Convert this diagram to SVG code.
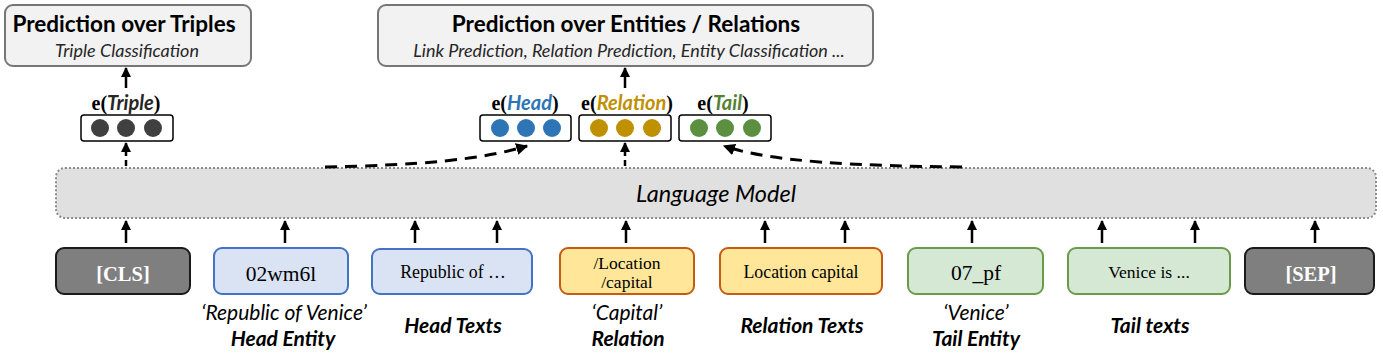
<svg xmlns="http://www.w3.org/2000/svg" width="1383" height="354" viewBox="0 0 1383 354">
<style>
.sans{font-family:Lato,"Open Sans","Liberation Sans",sans-serif}
.serif{font-family:"Liberation Serif","DejaVu Serif",serif}
.title{font-size:22.5px;font-weight:bold;fill:#000}
.sub{font-size:18px;font-style:italic;fill:#262626}
.pred{fill:#f2f2f2;stroke:#767676;stroke-width:2}
.emb{fill:#fff;stroke:#000;stroke-width:1.5}
.lab{font-size:20px;font-weight:bold}
.arr{stroke:#000;stroke-width:2.5;fill:none}
.dash{stroke:#000;stroke-width:3;fill:none;stroke-dasharray:12 8}
.tok{fill:#000}
.cap{font-size:21px;font-style:italic;fill:#000}
.capb{font-size:21px;font-style:italic;font-weight:bold;fill:#000}
</style>
<defs>
<marker id="ah" viewBox="0 0 10 10" refX="9" refY="5" markerWidth="4" markerHeight="4" orient="auto" markerUnits="strokeWidth">
<path d="M0,0 L10,5 L0,10 z" fill="#000"/>
</marker>
</defs>

<g id="pred-triples">
<rect class="pred" x="5" y="5" width="246" height="61" rx="8"/>
<text class="sans title" x="124" y="32" text-anchor="middle">Prediction over Triples</text>
<text class="sans sub" x="127" y="57" text-anchor="middle">Triple Classification</text>
</g>

<g id="pred-entities">
<rect class="pred" x="378" y="5" width="495" height="61" rx="8"/>
<text class="sans title" x="626" y="32" text-anchor="middle">Prediction over Entities / Relations</text>
<text class="sans sub" x="629" y="57" text-anchor="middle">Link Prediction, Relation Prediction, Entity Classification ...</text>
</g>

<g id="emb-triple">
<text x="126" y="110" text-anchor="middle" class="lab"><tspan class="serif">e(</tspan><tspan class="sans" font-style="italic" fill="#262626">Triple</tspan><tspan class="serif">)</tspan></text>
<rect class="emb" x="81" y="115" width="92" height="26" rx="3"/>
<circle cx="100" cy="128" r="9" fill="#404040"/>
<circle cx="126" cy="128" r="9" fill="#404040"/>
<circle cx="153" cy="128" r="9" fill="#404040"/>
</g>

<g id="emb-head">
<text x="525" y="110" text-anchor="middle" class="lab"><tspan class="serif">e(</tspan><tspan class="sans" font-style="italic" fill="#2e75b6">Head</tspan><tspan class="serif">)</tspan></text>
<rect class="emb" x="480" y="115" width="91" height="26" rx="3"/>
<circle cx="500" cy="128" r="9" fill="#2e75b6"/>
<circle cx="526" cy="128" r="9" fill="#2e75b6"/>
<circle cx="552" cy="128" r="9" fill="#2e75b6"/>
</g>

<g id="emb-relation">
<text x="627" y="110" text-anchor="middle" class="lab"><tspan class="serif">e(</tspan><tspan class="sans" font-style="italic" fill="#bf9000">Relation</tspan><tspan class="serif">)</tspan></text>
<rect class="emb" x="579" y="115" width="92" height="26" rx="3"/>
<circle cx="599" cy="128" r="9" fill="#bf9000"/>
<circle cx="625" cy="128" r="9" fill="#bf9000"/>
<circle cx="652" cy="128" r="9" fill="#bf9000"/>
</g>

<g id="emb-tail">
<text x="723" y="110" text-anchor="middle" class="lab"><tspan class="serif">e(</tspan><tspan class="sans" font-style="italic" fill="#548235">Tail</tspan><tspan class="serif">)</tspan></text>
<rect class="emb" x="679" y="115" width="92" height="26" rx="3"/>
<circle cx="699" cy="128" r="9" fill="#5b9040"/>
<circle cx="725" cy="128" r="9" fill="#5b9040"/>
<circle cx="752" cy="128" r="9" fill="#5b9040"/>
</g>

<g id="language-model">
<rect x="56" y="168" width="1320" height="50" rx="9" fill="#e0e0e0" stroke="#8c8c8c" stroke-width="2" stroke-dasharray="2 2"/>
<text class="sans" x="716" y="202" text-anchor="middle" font-size="23.5" font-style="italic" fill="#000">Language Model</text>
</g>

<g id="tok-cls">
<rect x="56" y="248" width="134" height="46" rx="8" fill="#7f7f7f" stroke="#1a1a1a" stroke-width="2"/>
<text class="serif" x="123" y="281" text-anchor="middle" font-size="20.5" font-weight="bold" fill="#fff">[CLS]</text>
</g>

<g id="tok-head">
<rect x="214" y="248" width="134" height="46" rx="8" fill="#dae3f3" stroke="#4472c4" stroke-width="2"/>
<text class="serif tok" x="281" y="281" text-anchor="middle" font-size="21.5">02wm6l</text>
</g>

<g id="tok-headtext">
<rect x="372" y="249" width="160" height="45" rx="8" fill="#dae3f3" stroke="#4472c4" stroke-width="2"/>
<text class="serif tok" x="453" y="278" text-anchor="middle" font-size="17.8">Republic of …</text>
</g>

<g id="tok-relation">
<rect x="560" y="248" width="134" height="46" rx="8" fill="#ffe699" stroke="#c55a11" stroke-width="2"/>
<text class="serif tok" x="627" y="269" text-anchor="middle" font-size="17.5">/Location</text>
<text class="serif tok" x="627" y="288" text-anchor="middle" font-size="17.5">/capital</text>
</g>

<g id="tok-reltext">
<rect x="720" y="248" width="162" height="46" rx="8" fill="#ffe699" stroke="#c55a11" stroke-width="2"/>
<text class="serif tok" x="801" y="278" text-anchor="middle" font-size="17.8">Location capital</text>
</g>

<g id="tok-tail">
<rect x="908" y="248" width="135" height="46" rx="8" fill="#d5e8d4" stroke="#6a9a4a" stroke-width="2"/>
<text class="serif tok" x="976" y="280" text-anchor="middle" font-size="21.5">07_pf</text>
</g>

<g id="tok-tailtext">
<rect x="1068" y="248" width="162" height="46" rx="8" fill="#d5e8d4" stroke="#6a9a4a" stroke-width="2"/>
<text class="serif tok" x="1149" y="278" text-anchor="middle" font-size="17.6">Venice is ...</text>
</g>

<g id="tok-sep">
<rect x="1245" y="248" width="129" height="46" rx="8" fill="#7f7f7f" stroke="#1a1a1a" stroke-width="2"/>
<text class="serif" x="1311" y="281" text-anchor="middle" font-size="20.5" font-weight="bold" fill="#fff">[SEP]</text>
</g>

<g id="captions">
<text class="sans cap" x="284" y="320" text-anchor="middle">‘Republic of Venice’</text>
<text class="sans capb" x="283" y="346" text-anchor="middle">Head Entity</text>
<text class="sans capb" x="453" y="333" text-anchor="middle">Head Texts</text>
<text class="sans cap" x="627" y="320" text-anchor="middle">‘Capital’</text>
<text class="sans capb" x="628" y="346" text-anchor="middle">Relation</text>
<text class="sans capb" x="802" y="333" text-anchor="middle">Relation Texts</text>
<text class="sans cap" x="976" y="320" text-anchor="middle">‘Venice’</text>
<text class="sans capb" x="976" y="346" text-anchor="middle">Tail Entity</text>
<text class="sans capb" x="1150" y="333" text-anchor="middle">Tail texts</text>
</g>

<g id="connectors">
<line class="arr" x1="126" y1="88" x2="126" y2="68" marker-end="url(#ah)"/>
<line class="arr" x1="625" y1="88" x2="625" y2="68" marker-end="url(#ah)"/>
<line class="arr" x1="126" y1="166" x2="126" y2="143" stroke-dasharray="6 4" marker-end="url(#ah)"/>
<line class="arr" x1="625" y1="166" x2="625" y2="143" stroke-dasharray="6 4" marker-end="url(#ah)"/>
<path class="dash" d="M325,167 C420,165 480,160 527,146" marker-end="url(#ah)"/>
<path class="dash" d="M962,167 C860,166 770,162 724,146" marker-end="url(#ah)"/>
<line class="arr" x1="126" y1="243" x2="126" y2="221" marker-end="url(#ah)"/>
<line class="arr" x1="285" y1="243" x2="285" y2="221" marker-end="url(#ah)"/>
<line class="arr" x1="415" y1="243" x2="415" y2="221" marker-end="url(#ah)"/>
<line class="arr" x1="497" y1="243" x2="497" y2="221" marker-end="url(#ah)"/>
<line class="arr" x1="626" y1="243" x2="626" y2="221" marker-end="url(#ah)"/>
<line class="arr" x1="765" y1="243" x2="765" y2="221" marker-end="url(#ah)"/>
<line class="arr" x1="845" y1="243" x2="845" y2="221" marker-end="url(#ah)"/>
<line class="arr" x1="972" y1="243" x2="972" y2="221" marker-end="url(#ah)"/>
<line class="arr" x1="1102" y1="243" x2="1102" y2="221" marker-end="url(#ah)"/>
<line class="arr" x1="1195" y1="243" x2="1195" y2="221" marker-end="url(#ah)"/>
<line class="arr" x1="1315" y1="243" x2="1315" y2="221" marker-end="url(#ah)"/>
</g>
</svg>
